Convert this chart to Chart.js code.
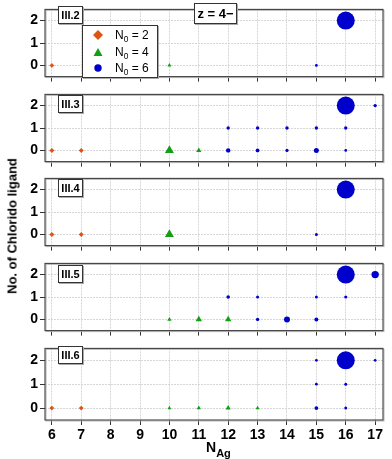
<!DOCTYPE html>
<html>
<head>
<meta charset="utf-8">
<script src="https://cdn.jsdelivr.net/npm/chart.js@4.4.1/dist/chart.umd.min.js"></script>
<style>
  body { margin: 0; width: 392px; height: 459px; overflow: hidden; background: #fff; position: relative;
         font-family: "Liberation Sans", Arial, sans-serif; color: #000; }
  canvas { position: absolute; left: 0; }
  .tag { position: absolute; left: 58px; width: 23px; height: 16px; line-height: 16px; text-align: center;
         background: #fff; border: 1px solid #333; box-shadow: 1px 1px 0 #aaa; font-weight: bold; font-size: 11px; }
  #zbox { position: absolute; left: 194px; top: 3px; width: 41px; height: 19px; line-height: 19px; text-align: center;
          background: #fff; border: 1px solid #333; box-shadow: 1px 1px 0 #aaa; font-weight: bold; font-size: 13px; }
  #legend { position: absolute; left: 82px; top: 25px; width: 74px; height: 51px; background: #fff;
            border: 1px solid #333; box-shadow: 1px 1px 0 #aaa; font-size: 12px; }
  #legend .row { position: absolute; left: 0; height: 14px; line-height: 14px; }
  #legend svg { position: absolute; left: 9px; top: 0; }
  #legend span { position: absolute; left: 32px; white-space: nowrap; }
  sub { font-size: 70%; vertical-align: -3px; line-height: 0; }
  #ytitle { position: absolute; left: 12px; top: 226px; transform: translate(-50%, -50%) rotate(-90deg);
            white-space: nowrap; font-weight: bold; font-size: 13px; }
  #xtitle { position: absolute; left: 206px; top: 439px; font-weight: bold; font-size: 14px; white-space: nowrap; }
  #xtitle sub { font-size: 11px; vertical-align: -5px; }
</style>
</head>
<body>
<script>
// x = N_Ag, y = number of chlorido ligands, third value = marker size
const xTicks = [6, 7, 8, 9, 10, 11, 12, 13, 14, 15, 16, 17];
const yTicks = [0, 1, 2];
const panelNames = ["III.2", "III.3", "III.4", "III.5", "III.6"];
const seriesLabels = ["N0 = 2", "N0 = 4", "N0 = 6"];

const n0_2 = [
  [[6, 0, 2.3]],
  [[6, 0, 2.5], [7, 0, 2.5]],
  [[6, 0, 2.5], [7, 0, 2.5]],
  [],
  [[6, 0, 2.4], [7, 0, 2.4]]
];
const n0_4 = [
  [[10, 0, 2.3]],
  [[10, 0, 5.2], [11, 0, 3]],
  [[10, 0, 5.2]],
  [[10, 0, 2.5], [11, 0, 3.7], [12, 0, 3.7]],
  [[10, 0, 2.2], [11, 0, 2.5], [12, 0, 3], [13, 0, 2.3]]
];
const n0_6 = [
  [[15, 0, 1.4], [16, 2, 9]],
  [[12, 0, 2.2], [13, 0, 1.9], [14, 0, 1.6], [15, 0, 2.5], [16, 0, 1.4],
   [12, 1, 1.7], [13, 1, 1.7], [14, 1, 1.7], [15, 1, 1.7], [16, 1, 1.7],
   [16, 2, 9], [17, 2, 1.7]],
  [[15, 0, 1.5], [16, 2, 9]],
  [[13, 0, 1.7], [14, 0, 3], [15, 0, 2],
   [12, 1, 1.8], [13, 1, 1.5], [15, 1, 1.5], [16, 1, 1.6],
   [16, 2, 9], [17, 2, 3.7]],
  [[15, 0, 1.9], [16, 0, 1.5], [15, 1, 1.4], [16, 1, 1.5],
   [15, 2, 1.4], [16, 2, 9], [17, 2, 1.4]]
];

const COL = { orange: "#DD5511", green: "#11A011", blue: "#0000CC", grid: "#d6d6d6", frame: "#404040" };
const panelTops = [2, 87, 171, 256, 341];
const panelH = 79;
const tagTops = [6, 95, 179, 265, 346];

const toPts = arr => arr.map(p => ({ x: p[0], y: p[1], r: p[2] }));

const framePlugin = {
  id: "frame",
  afterDraw(chart) {
    const { ctx, chartArea: a } = chart;
    ctx.save();
    ctx.strokeStyle = "#b8b8b8"; ctx.lineWidth = 1;
    ctx.strokeRect(a.left + 1, a.top + 1, a.right - a.left, a.bottom - a.top);
    ctx.strokeStyle = COL.frame; ctx.lineWidth = 1.1;
    ctx.strokeRect(a.left, a.top, a.right - a.left, a.bottom - a.top);
    ctx.restore();
  }
};

panelNames.forEach((name, i) => {
  const last = i === panelNames.length - 1;
  const cv = document.createElement("canvas");
  const h = 3 + panelH + (last ? 39 : 6);
  cv.width = 392; cv.height = h;
  cv.style.top = (panelTops[i] - 3) + "px";
  document.body.appendChild(cv);

  const ds = (data, style, color, label) => ({
    label, data: toPts(data), pointStyle: style, backgroundColor: color,
    borderColor: color, borderWidth: 0, hoverRadius: 0
  });

  new Chart(cv, {
    type: "bubble",
    data: {
      datasets: [
        ds(n0_2[i], "rectRot", COL.orange, seriesLabels[0]),
        ds(n0_4[i], "triangle", COL.green, seriesLabels[1]),
        ds(n0_6[i], "circle", COL.blue, seriesLabels[2])
      ]
    },
    options: {
      responsive: false, animation: false, devicePixelRatio: 1, clip: false,
      layout: { padding: { top: 3, right: 2, left: 0, bottom: 0 } },
      plugins: { legend: { display: false }, tooltip: { enabled: false } },
      scales: {
        x: {
          type: "linear", min: 5.767, max: 17.267,
          afterBuildTicks: s => { s.ticks = xTicks.map(v => ({ value: v })); },
          afterFit: s => { s.height = last ? 39 : 6; },
          grid: { color: COL.grid, tickColor: "#333", tickLength: 5, tickWidth: 1 },
          border: { display: false, dash: [2, 1] },
          ticks: { display: last, padding: 2, color: "#000",
                   font: { family: "Liberation Sans", size: 14, weight: "bold" } }
        },
        y: {
          type: "linear", min: -0.5, max: 2.5,
          afterBuildTicks: s => { s.ticks = yTicks.map(v => ({ value: v })); },
          afterFit: s => { s.width = 45; },
          grid: { color: COL.grid, tickColor: "#333", tickLength: 5, tickWidth: 1 },
          border: { display: false, dash: [2, 1] },
          ticks: { padding: 2, color: "#000",
                   font: { family: "Liberation Sans", size: 14, weight: "bold" } }
        }
      }
    },
    plugins: [framePlugin]
  });

  const tag = document.createElement("div");
  tag.className = "tag";
  tag.style.top = tagTops[i] + "px";
  tag.textContent = name;
  document.body.appendChild(tag);
});
</script>
<div id="zbox">z = 4−</div>
<div id="legend">
  <div class="row" style="top:2px">
    <svg width="12" height="14"><polygon points="6,2 11,7 6,12 1,7" fill="#DD5511"/></svg>
    <span>N<sub>0</sub> = 2</span>
  </div>
  <div class="row" style="top:19px">
    <svg width="12" height="14"><polygon points="6,3 10.5,11 1.5,11" fill="#11A011"/></svg>
    <span>N<sub>0</sub> = 4</span>
  </div>
  <div class="row" style="top:35px">
    <svg width="12" height="14"><circle cx="6" cy="7" r="3.7" fill="#0000CC"/></svg>
    <span>N<sub>0</sub> = 6</span>
  </div>
</div>
<div id="ytitle">No. of Chlorido ligand</div>
<div id="xtitle">N<sub>Ag</sub></div>
</body>
</html>
